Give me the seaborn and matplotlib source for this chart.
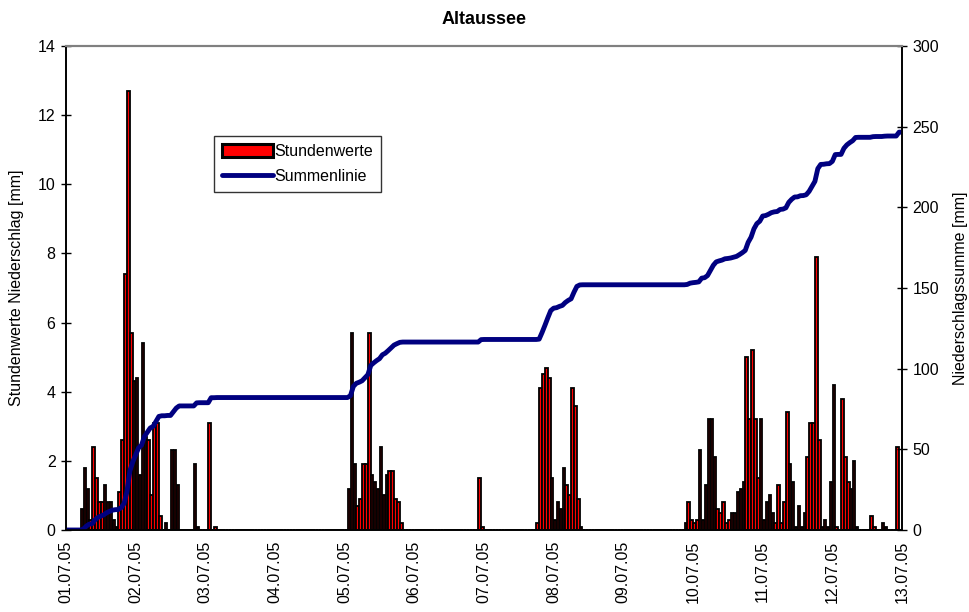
import numpy as np
import pandas as pd
import seaborn as sns
import matplotlib.pyplot as plt
from matplotlib.patches import Patch
from matplotlib.lines import Line2D

# hourly precipitation, 01.07.05 00:00 .. 13.07.05 00:00 (hour index from start)
rain_hours_a = [5, 6, 7, 8, 9, 10, 11, 12, 13, 14, 15, 16, 17, 18, 19, 20, 21, 22,
                23, 24, 25, 26, 27, 28, 29, 30, 31, 32, 34, 36, 37, 38, 44, 45, 49, 51]
rain_mm_a = [0.6, 1.8, 1.2, 0.3, 2.4, 1.5, 0.8, 0.8, 1.3, 0.8, 0.8, 0.3, 0.1, 1.1, 2.6, 7.4, 12.7, 5.7,
             4.3, 4.4, 1.6, 5.4, 2.7, 2.6, 1.0, 3.1, 3.1, 0.4, 0.2, 2.3, 2.3, 1.3, 1.9, 0.1, 3.1, 0.1]

rain_hours_b = [97, 98, 99, 100, 101, 102, 103, 104, 105, 106, 107, 108, 109, 110, 111, 112, 113, 114, 115,
                142, 143]
rain_mm_b = [1.2, 5.7, 1.9, 0.7, 0.9, 1.9, 1.9, 5.7, 1.6, 1.4, 1.2, 2.4, 1.0, 1.6, 1.7, 1.7, 0.9, 0.8, 0.2,
             1.5, 0.1]

rain_hours_c = [162, 163, 164, 165, 166, 167, 168, 169, 170, 171, 172, 173, 174, 175, 176, 177]
rain_mm_c = [0.2, 4.1, 4.5, 4.7, 4.4, 1.5, 0.3, 0.8, 0.6, 1.8, 1.3, 1.0, 4.1, 3.6, 0.9, 0.1]

rain_hours_d = [213, 214, 215, 216, 217, 218, 219, 220, 221, 222, 223, 224, 225, 226, 227, 228, 229, 230,
                231, 232, 233, 234, 235, 236, 237, 238, 239, 240, 241, 242, 243, 244, 245, 246, 247,
                248, 249, 250, 251, 252, 253, 254, 255, 256, 257, 258, 259, 260, 261, 262, 263, 264,
                265, 267, 268, 269, 270, 271, 272, 277, 278, 281, 282, 286]
rain_mm_d = [0.2, 0.8, 0.3, 0.2, 0.3, 2.3, 0.3, 1.3, 3.2, 3.2, 2.1, 0.6, 0.5, 0.8, 0.2, 0.3, 0.5, 0.5,
             1.1, 1.2, 1.4, 5.0, 3.2, 5.2, 3.2, 1.5, 3.2, 0.3, 0.8, 1.0, 0.5, 0.2, 1.3, 0.2, 0.8,
             3.4, 1.9, 1.4, 0.1, 0.7, 0.1, 0.5, 2.1, 3.1, 3.1, 7.9, 2.6, 0.1, 0.3, 0.1, 1.4, 4.2,
             0.1, 3.8, 2.1, 1.4, 1.2, 2.0, 0.1, 0.4, 0.1, 0.2, 0.1, 2.4]

day_labels = ['01.07.05', '02.07.05', '03.07.05', '04.07.05', '05.07.05', '06.07.05', '07.07.05',
              '08.07.05', '09.07.05', '10.07.05', '11.07.05', '12.07.05', '13.07.05']

n_hours = 288
hourly = np.zeros(n_hours)
for hrs, vals in [(rain_hours_a, rain_mm_a), (rain_hours_b, rain_mm_b),
                  (rain_hours_c, rain_mm_c), (rain_hours_d, rain_mm_d)]:
    hourly[hrs] = vals

df = pd.DataFrame({'hour': np.arange(n_hours), 'mm': hourly})
# Summenlinie = running total at the end of each hour
line_df = pd.DataFrame({'x': np.arange(-1, n_hours) + 0.5,
                        'sum': np.concatenate([[0], np.cumsum(hourly)])})

sns.set_theme(style='white', rc={'text.color': 'black', 'axes.labelcolor': 'black',
                                 'xtick.color': 'black', 'ytick.color': 'black'})
plt.rcParams['font.family'] = ['Liberation Sans', 'DejaVu Sans']
fs = 11.5

fig = plt.figure(figsize=(9.7, 6.12), dpi=100)
ax = fig.add_axes([66 / 970, 82 / 612, 836 / 970, 484 / 612])

sns.barplot(data=df, x='hour', y='mm', ax=ax, color='red', saturation=1,
            edgecolor='black', linewidth=1.3, width=0.85, errorbar=None)
ax.set_xlim(-0.5, n_hours - 0.5)
ax.set_ylim(0, 14)
ax.set_yticks(range(0, 15, 2))
ax.set_xticks([-0.5 + 24 * i for i in range(len(day_labels))])
ax.set_xticklabels(day_labels, rotation=90, fontsize=fs)
ax.tick_params(axis='x', length=0, pad=8)
ax.tick_params(axis='y', direction='inout', length=7, width=1, color='black', labelsize=fs, pad=4, left=True)
ax.set_xlabel('')
ax.set_ylabel('Stundenwerte Niederschlag [mm]', fontsize=fs, labelpad=10)
ax.set_title('Altaussee', fontsize=13, fontweight='bold', pad=16)

ax2 = ax.twinx()
sns.lineplot(data=line_df, x='x', y='sum', ax=ax2, color='#000080', linewidth=3.5, sort=False)
ax2.set_ylim(0, 300)
ax2.set_yticks(range(0, 301, 50))
ax2.tick_params(axis='y', direction='inout', length=7, width=1, color='black', labelsize=fs, pad=4, right=True)
ax2.set_ylabel('Niederschlagssumme [mm]', fontsize=fs, labelpad=10)
ax2.set_xlabel('')

for a in (ax, ax2):
    for side in ('left', 'right', 'bottom'):
        a.spines[side].set_color('black')
        a.spines[side].set_linewidth(1.2)
    a.spines['top'].set_color('#808080')
    a.spines['top'].set_linewidth(1.5)

handles = [Patch(facecolor='red', edgecolor='black', linewidth=2.2),
           Line2D([0], [0], color='#000080', linewidth=3.5, solid_capstyle='round')]
leg = ax2.legend(handles, ['Stundenwerte', 'Summenlinie'], loc='upper left',
                 bbox_to_anchor=(214 / 970, 1 - 136 / 612), bbox_transform=fig.transFigure,
                 fontsize=fs, frameon=True, fancybox=False, edgecolor='black',
                 handlelength=3.2, handleheight=0.9, handletextpad=0.1, borderpad=0.5,
                 labelspacing=0.6, borderaxespad=0)
leg.get_frame().set_linewidth(1.0)

fig.savefig('out.png', dpi=100)
